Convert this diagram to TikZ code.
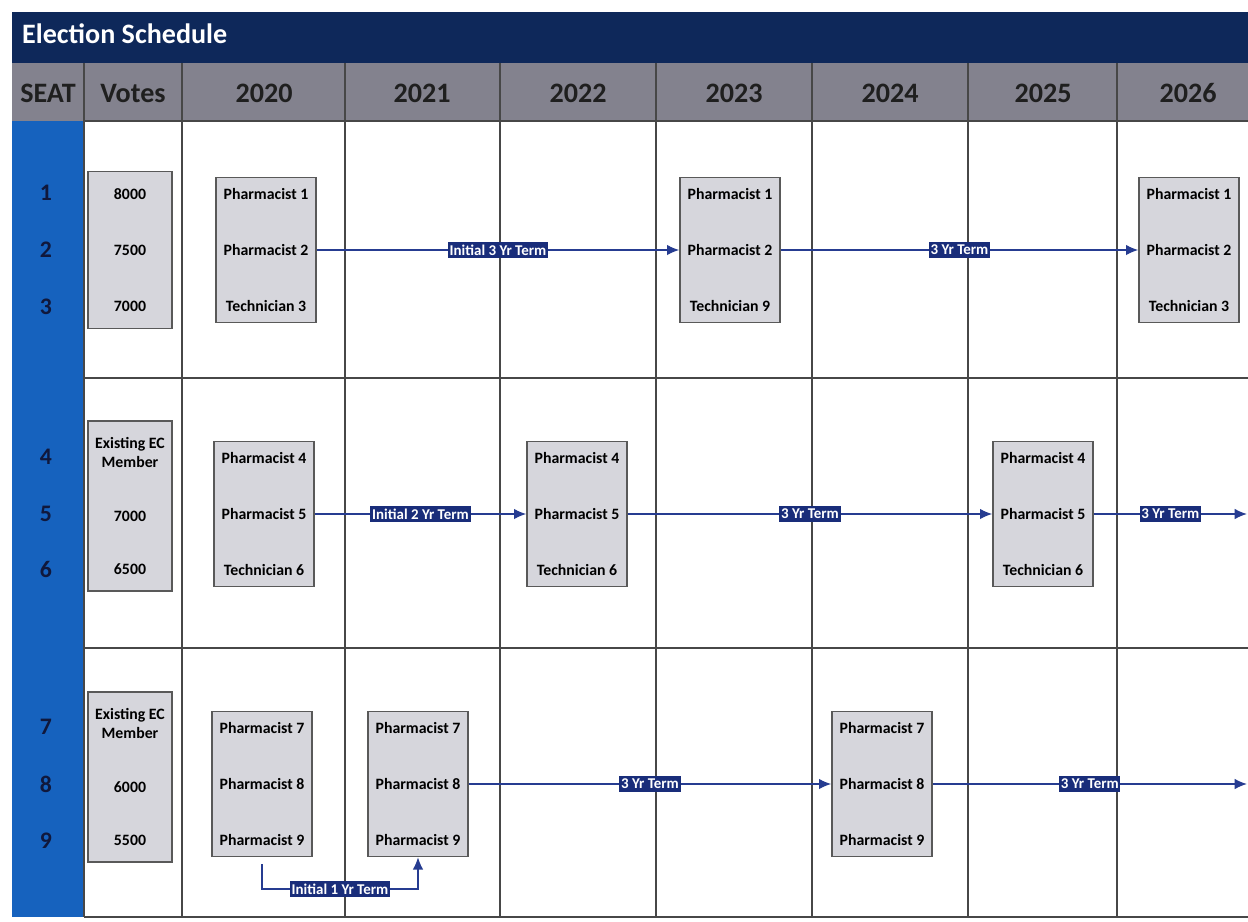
\documentclass[tikz,border=0pt]{standalone}
\usepackage{fontspec}
\setmainfont{Carlito}
\usetikzlibrary{arrows.meta,positioning}
\definecolor{titlenavy}{RGB}{14,40,90}
\definecolor{headgray}{RGB}{131,130,142}
\definecolor{seatblue}{RGB}{22,98,190}
\definecolor{seatnavy}{RGB}{16,24,60}
\definecolor{termblue}{RGB}{38,60,145}
\definecolor{termfill}{RGB}{25,45,122}
\definecolor{boxgray}{RGB}{214,214,220}

\begin{document}
\begin{tikzpicture}[x=0.02cm,y=-0.02cm,
  member/.style={draw=black!65,fill=boxgray,line width=0.8pt,minimum width=2cm,minimum height=2.9cm,align=center,font=\bfseries\fontsize{9}{32}\selectfont},
  votebox/.style={member,minimum width=1.68cm},
  term/.style={fill=termfill,text=white,font=\bfseries\fontsize{8.5}{9}\selectfont,inner xsep=1pt,inner ysep=1.5pt},
  link/.style={termblue,line width=0.9pt,-{Latex[length=7pt,width=6pt]}},
  gridline/.style={black!72,line width=0.7pt},
  headtext/.style={text=black!88,font=\bfseries\fontsize{16}{18}\selectfont},
  seatno/.style={text=seatnavy,font=\bfseries\fontsize{13.5}{15}\selectfont}]
\useasboundingbox (0,0) rectangle (1248,921);
\fill[white] (0,0) rectangle (1248,921);

% title bar, header row and seat column
\fill[titlenavy] (12,12) rectangle (1248,63);
\node[text=white,font=\bfseries\fontsize{16}{18}\selectfont,anchor=west] (title) at (16,34) {Election Schedule};
\fill[headgray] (12,63) rectangle (1248,121);
\fill[seatblue] (12,121) rectangle (84,917);

% table lines
\foreach \x in {84,182,345,500,656,812,968,1117}
  \draw[gridline] (\x,63) -- (\x,917);
\foreach \y in {121,378,648,917}
  \draw[gridline] (84,\y) -- (1248,\y);

% header texts
\node[headtext] (hseat) at (48,93) {SEAT};
\node[headtext] (hvotes) at (133,93) {Votes};
\foreach \yr/\x in {2020/264,2021/422,2022/578,2023/734,2024/890,2025/1043,2026/1188}
  \node[headtext] (h\yr) at (\x,93) {\yr};

% seat numbers
\foreach \s/\y in {1/193,2/250,3/307,4/457,5/514,6/569,7/727,8/784,9/841}
  \node[seatno] (s\s) at (46,\y) {\s};

% votes
\node[votebox,minimum height=3.14cm] (v1) at (130,250) {8000\\7500\\7000};
\node[votebox,minimum height=3.4cm,font=\bfseries\fontsize{9}{11}\selectfont] (v2) at (130,506) {Existing EC\\Member\\[19.5pt]7000\\[19.5pt]6500};
\node[votebox,minimum height=3.4cm,font=\bfseries\fontsize{9}{11}\selectfont] (v3) at (130,777) {Existing EC\\Member\\[19.5pt]6000\\[19.5pt]5500};

% seats 1-3
\node[member] (p20a) at (266,250) {Pharmacist 1\\Pharmacist 2\\Technician 3};
\node[member] (p23a) at (730,250) {Pharmacist 1\\Pharmacist 2\\Technician 9};
\node[member] (p26a) at (1189,250) {Pharmacist 1\\Pharmacist 2\\Technician 3};

% seats 4-6
\node[member] (p20b) at (264,514) {Pharmacist 4\\Pharmacist 5\\Technician 6};
\node[member] (p22b) at (577,514) {Pharmacist 4\\Pharmacist 5\\Technician 6};
\node[member] (p25b) at (1043,514) {Pharmacist 4\\Pharmacist 5\\Technician 6};
\coordinate (e25b) at (1247,514);

% seats 7-9
\node[member] (p20c) at (262,784) {Pharmacist 7\\Pharmacist 8\\Pharmacist 9};
\node[member] (p21c) at (418,784) {Pharmacist 7\\Pharmacist 8\\Pharmacist 9};
\node[member] (p24c) at (882,784) {Pharmacist 7\\Pharmacist 8\\Pharmacist 9};
\coordinate (e24c) at (1247,784);

% terms
\draw[link] (p20a) -- node[term] (t1) {Initial 3 Yr Term} (p23a);
\draw[link] (p23a) -- node[term] (t2) {3 Yr Term} (p26a);
\draw[link] (p20b) -- node[term] (t3) {Initial 2 Yr Term} (p22b);
\draw[link] (p22b) -- node[term] (t4) {3 Yr Term} (p25b);
\draw[link] (p25b) -- node[term] (t5) {3 Yr Term} (e25b);
\draw[link] ([yshift=-4pt]p20c.south) -- ++(0,25) -| node[term,pos=0.25] (t6) {Initial 1 Yr Term} (p21c.south);
\draw[link] (p21c) -- node[term] (t7) {3 Yr Term} (p24c);
\draw[link] (p24c) -- node[term] (t8) {3 Yr Term} (e24c);
\end{tikzpicture}
\end{document}
